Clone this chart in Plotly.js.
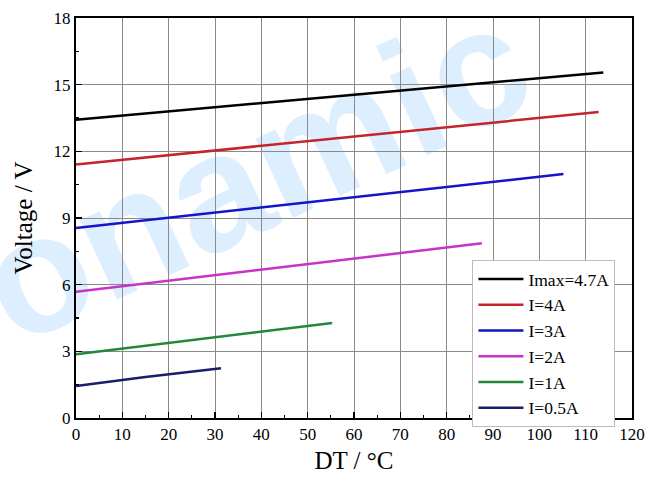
<!DOCTYPE html>
<html>
<head>
<meta charset="utf-8">
<script src="https://cdn.plot.ly/plotly-3.0.1.min.js"></script>
<style>html,body{margin:0;padding:0;background:#fff;}#chart{width:646px;height:477px;}</style>
</head>
<body>
<div id="chart"></div>
<script>
const seriesNames = ["Imax=4.7A", "I=4A", "I=3A", "I=2A", "I=1A", "I=0.5A"];
const seriesColors = ["#000000", "#c4242a", "#1414c8", "#c832c8", "#24863a", "#1c1c6e"];
const xImax = [0, 60, 113.8];
const yImax = [13.42, 14.53, 15.55];
const xI4 = [0, 60, 112.8];
const yI4 = [11.41, 12.67, 13.77];
const xI3 = [0, 50, 105.2];
const yI3 = [8.55, 9.72, 10.98];
const xI2 = [0, 45, 87.6];
const yI2 = [5.68, 6.80, 7.86];
const xI1 = [0, 30, 55.3];
const yI1 = [2.87, 3.65, 4.28];
const xI05 = [0, 15, 31.3];
const yI05 = [1.44, 1.85, 2.24];
const xTicks = [0,10,20,30,40,50,60,70,80,90,100,110,120];
const yTicks = [0,3,6,9,12,15,18];
const watermarkText = "onamic";

const xs = [xImax, xI4, xI3, xI2, xI1, xI05];
const ys = [yImax, yI4, yI3, yI2, yI1, yI05];
const traces = seriesNames.map((n, i) => ({
  x: xs[i], y: ys[i], name: n, type: 'scatter', mode: 'lines',
  line: {color: seriesColors[i], width: 2.5}
}));

const serif = "Liberation Serif, Times New Roman, serif";
const axisCommon = {
  showline: true, linecolor: '#000', linewidth: 2, mirror: true,
  showgrid: true, gridcolor: '#8a8a8a', gridwidth: 1,
  ticks: 'inside', ticklen: 6, tickwidth: 1.5, tickcolor: '#000',
  zeroline: false, tickfont: {family: serif, size: 17, color: '#000'}
};

const layout = {
  width: 646, height: 477,
  margin: {l: 76, r: 14, t: 18, b: 59},
  paper_bgcolor: '#fff', plot_bgcolor: '#fff',
  showlegend: true,
  xaxis: Object.assign({}, axisCommon, {
    range: [0, 120], tickvals: xTicks, ticktext: xTicks.map(String),
    minor: {ticks: 'inside', ticklen: 3, tickwidth: 1.2, tickcolor: '#000', dtick: 5, showgrid: false},
    title: {text: 'DT / °C', font: {family: serif, size: 25, color: '#000'}, standoff: 8}
  }),
  yaxis: Object.assign({}, axisCommon, {
    range: [0, 18], tickvals: yTicks, ticktext: yTicks.map(String),
    minor: {ticks: 'inside', ticklen: 3, tickwidth: 1.2, tickcolor: '#000', dtick: 1.5, showgrid: false},
    title: {text: 'Voltage / V', font: {family: serif, size: 25, color: '#000'}, standoff: 14}
  }),
  legend: {
    x: 0.713, y: 0.395, xanchor: 'left', yanchor: 'top',
    bgcolor: '#fff', bordercolor: '#bbbbbb', borderwidth: 1,
    font: {family: serif, size: 17.5, color: '#000'},
    itemwidth: 45, tracegroupgap: 0
  },
  shapes: [{
    type: 'rect', xref: 'paper', yref: 'paper', layer: 'below',
    x0: 0.298, x1: 0.318, y0: 0.64, y1: 0.66,
    line: {width: 0}, fillcolor: 'rgba(0,0,0,0)',
    label: {
      text: watermarkText, textangle: -25, textposition: 'middle center',
      font: {family: 'Liberation Sans, Arial, sans-serif', size: 166, weight: 'bold', color: 'rgba(30,144,255,0.15)'}
    }
  }]
};

Plotly.newPlot('chart', traces, layout, {displayModeBar: false, staticPlot: true});
</script>
</body>
</html>
